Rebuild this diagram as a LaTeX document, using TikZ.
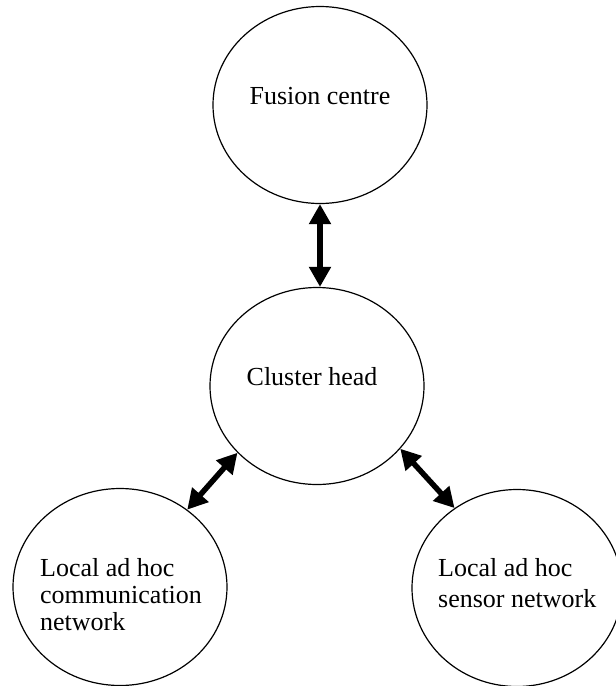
\documentclass[tikz,border=0pt]{standalone}
\usepackage{fontspec}
\setmainfont{Liberation Serif}
\usetikzlibrary{shapes.geometric,arrows.meta}
\begin{document}
\begin{tikzpicture}[x=1pt,y=-1pt,
  blob/.style={draw,ellipse,line width=1.2pt,inner sep=0pt,minimum width=214pt,minimum height=197pt},
  lbl/.style={font=\fontsize{26}{27}\selectfont,inner sep=0pt},
  link/.style={line width=5.5pt,{Triangle[length=20pt,width=21pt]}-{Triangle[length=20pt,width=21pt]}}]
\useasboundingbox (0,0) rectangle (616,686);
\node[blob] (fc) at (320,105) {};
\node[blob] (ch) at (317,386) {};
\node[blob] (bl) at (120,587) {};
\node[blob,minimum width=210pt] (br) at (517,588) {};
\node[lbl,anchor=base] (tfc) at (320,104) {Fusion centre};
\node[lbl,anchor=base] (tch) at (312,385) {Cluster head};
\node[lbl,anchor=base west] (tl1) at (40,576) {Local ad hoc};
\node[lbl,anchor=base west] (tl2) at (40,603) {communication};
\node[lbl,anchor=base west] (tl3) at (40,630) {network};
\node[lbl,anchor=base west] (tr1) at (438,576) {Local ad hoc};
\node[lbl,anchor=base west] (tr2) at (438,607) {sensor network};
\draw[link] (fc.south) -- (fc.south |- ch.north);
\draw[link] (ch.220) -- (bl.49);
\draw[link] (ch.-37) -- (br.128);
\end{tikzpicture}
\end{document}
